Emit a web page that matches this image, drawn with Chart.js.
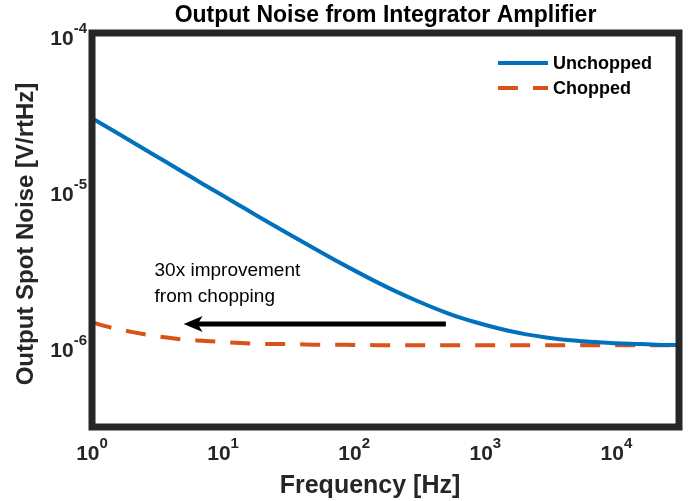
<!DOCTYPE html>
<html lang="en">
<head>
    <meta charset="UTF-8">
    <title>Output Noise from Integrator Amplifier</title>
    <script src="https://cdn.jsdelivr.net/npm/chart.js"></script>
    <style>
        html, body {
            margin: 0;
            padding: 0;
            background-color: #fff;
        }
        #wrap {
            width: 688px;
            height: 501px;
        }
    </style>
</head>
<body>
    <div id="wrap">
        <canvas id="noiseChart" width="688" height="501"></canvas>
    </div>

    <script>
        // values
        const freqs = [1, 1.5, 2, 3, 5, 7, 10, 15, 20, 30, 50, 70, 100, 150, 200, 300, 500, 700,
                       1000, 1500, 2000, 3000, 5000, 7000, 10000, 15000, 20000, 30000];
        const unchopped = [2.85e-5, 2.33e-5, 2.02e-5, 1.65e-5, 1.28e-5, 1.08e-5, 9.07e-6, 7.43e-6, 6.45e-6,
                           5.30e-6, 4.15e-6, 3.55e-6, 3.02e-6, 2.53e-6, 2.25e-6, 1.93e-6, 1.62e-6, 1.47e-6,
                           1.35e-6, 1.24e-6, 1.18e-6, 1.12e-6, 1.07e-6, 1.05e-6, 1.03e-6, 1.02e-6, 1.01e-6, 1.005e-6];
        const chopped = [1.40e-6, 1.28e-6, 1.22e-6, 1.15e-6, 1.09e-6, 1.07e-6, 1.05e-6, 1.03e-6, 1.02e-6,
                         1.02e-6, 1.01e-6, 1.01e-6, 1.005e-6, 1.003e-6, 1.002e-6, 1.002e-6, 1.001e-6, 1.0e-6,
                         1.0e-6, 1.0e-6, 1.0e-6, 1.0e-6, 1.0e-6, 1.0e-6, 1.0e-6, 1.0e-6, 1.0e-6, 1.0e-6];
        const seriesNames = ['Unchopped', 'Chopped'];
        const xTickExps = [0, 1, 2, 3, 4];
        const yTickExps = [-4, -5, -6];
        const xRange = [1, 30000];
        const yRange = [3e-7, 1e-4];
        // arrow: from 500 Hz back to 5 Hz
        const arrowFrom = [500, 1.37e-6];
        const arrowTo = [5, 1.37e-6];
        const noteLines = ['30x improvement', 'from chopping'];
        const noteAt = [[3, 3.0e-6], [3, 2.05e-6]];

        const BLUE = '#0072BD';
        const ORANGE = '#D95319';
        const FRAME = '#262626';
        const font = (s, bold) => (bold ? 'bold ' : '') + s + 'px "Liberation Sans", Arial, sans-serif';

        function pts(ys) {
            return freqs.map((f, i) => ({ x: f, y: ys[i] }));
        }

        // "10" with a raised exponent
        function powLabel(ctx, exp, x, baseY, align) {
            const base = '10';
            const sup = String(exp);
            ctx.font = font(21, true);
            const bw = ctx.measureText(base).width;
            ctx.font = font(15, true);
            const sw = ctx.measureText(sup).width;
            const total = bw + sw;
            let left = x;
            if (align === 'center') left = x - total / 2;
            if (align === 'right') left = x - total;
            ctx.textAlign = 'left';
            ctx.textBaseline = 'alphabetic';
            ctx.fillStyle = '#262626';
            ctx.font = font(21, true);
            ctx.fillText(base, left, baseY);
            ctx.font = font(15, true);
            ctx.fillText(sup, left + bw, baseY - 12);
        }

        const decorPlugin = {
            id: 'decor',
            afterDatasetsDraw(chart) {
                const ctx = chart.ctx;
                const xs = chart.scales.x;
                const ys = chart.scales.y;
                const a = chart.chartArea;
                ctx.save();

                // arrow
                const ax1 = xs.getPixelForValue(arrowFrom[0]);
                const ay = ys.getPixelForValue(arrowFrom[1]);
                const ax2 = xs.getPixelForValue(arrowTo[0]);
                ctx.strokeStyle = '#000';
                ctx.lineWidth = 5;
                ctx.beginPath();
                ctx.moveTo(ax1, ay);
                ctx.lineTo(ax2 + 12, ay);
                ctx.stroke();
                ctx.fillStyle = '#000';
                ctx.beginPath();
                ctx.moveTo(ax2, ay);
                ctx.lineTo(ax2 + 19, ay - 8);
                ctx.lineTo(ax2 + 14, ay);
                ctx.lineTo(ax2 + 19, ay + 8);
                ctx.closePath();
                ctx.fill();

                // note text
                ctx.font = font(19, false);
                ctx.textAlign = 'left';
                ctx.textBaseline = 'middle';
                noteLines.forEach((t, i) => {
                    ctx.fillText(t, xs.getPixelForValue(noteAt[i][0]), ys.getPixelForValue(noteAt[i][1]));
                });

                // frame
                ctx.strokeStyle = FRAME;
                ctx.lineWidth = 7;
                ctx.strokeRect(a.left, a.top, a.right - a.left, a.bottom - a.top);

                // tick labels
                xTickExps.forEach(e => {
                    powLabel(ctx, e, xs.getPixelForValue(Math.pow(10, e)), a.bottom + 33, 'center');
                });
                yTickExps.forEach(e => {
                    powLabel(ctx, e, a.left - 5, ys.getPixelForValue(Math.pow(10, e)) + 12, 'right');
                });

                // legend
                const lx = 498, lw = 50;
                const legendY = [63, 88];
                ctx.lineWidth = 4;
                ctx.strokeStyle = BLUE;
                ctx.beginPath();
                ctx.moveTo(lx, legendY[0]);
                ctx.lineTo(lx + lw, legendY[0]);
                ctx.stroke();
                ctx.strokeStyle = ORANGE;
                ctx.setLineDash([20, 15]);
                ctx.beginPath();
                ctx.moveTo(lx, legendY[1]);
                ctx.lineTo(lx + lw, legendY[1]);
                ctx.stroke();
                ctx.setLineDash([]);
                ctx.fillStyle = '#000';
                ctx.font = font(18, true);
                ctx.textAlign = 'left';
                ctx.textBaseline = 'middle';
                seriesNames.forEach((n, i) => ctx.fillText(n, lx + lw + 5, legendY[i] + 1));

                // titles
                const cx = (a.left + a.right) / 2;
                ctx.fillStyle = '#000';
                ctx.textAlign = 'center';
                ctx.textBaseline = 'alphabetic';
                ctx.font = font(23, true);
                ctx.fillText('Output Noise from Integrator Amplifier', cx, 22);
                ctx.fillStyle = '#262626';
                ctx.font = font(25, true);
                ctx.fillText('Frequency [Hz]', 370, 493);
                ctx.save();
                ctx.translate(33, 234);
                ctx.rotate(-Math.PI / 2);
                ctx.font = font(24, true);
                ctx.fillText('Output Spot Noise [V/rtHz]', 0, 0);
                ctx.restore();

                ctx.restore();
            }
        };

        const ctx = document.getElementById('noiseChart').getContext('2d');
        const noiseChart = new Chart(ctx, {
            type: 'line',
            data: {
                datasets: [
                    {
                        label: seriesNames[0],
                        data: pts(unchopped),
                        borderColor: BLUE,
                        borderWidth: 4,
                        pointRadius: 0,
                        cubicInterpolationMode: 'monotone',
                        fill: false
                    },
                    {
                        label: seriesNames[1],
                        data: pts(chopped),
                        borderColor: ORANGE,
                        borderWidth: 4,
                        borderDash: [20, 15],
                        pointRadius: 0,
                        cubicInterpolationMode: 'monotone',
                        fill: false
                    }
                ]
            },
            options: {
                responsive: false,
                animation: false,
                events: [],
                layout: {
                    padding: { left: 92, top: 33, right: 9, bottom: 74 }
                },
                scales: {
                    x: {
                        type: 'logarithmic',
                        display: false,
                        min: xRange[0],
                        max: xRange[1]
                    },
                    y: {
                        type: 'logarithmic',
                        display: false,
                        min: yRange[0],
                        max: yRange[1]
                    }
                },
                plugins: {
                    legend: { display: false },
                    tooltip: { enabled: false },
                    title: { display: false }
                }
            },
            plugins: [decorPlugin]
        });
    </script>
</body>
</html>
